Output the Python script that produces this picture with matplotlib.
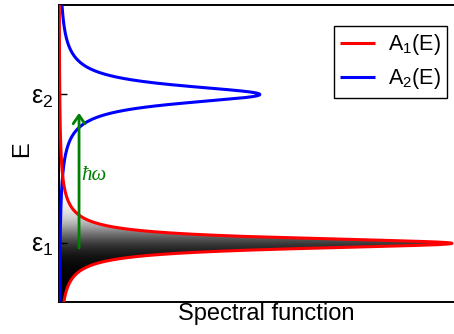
import numpy as np
import matplotlib
matplotlib.use("Agg")
import matplotlib.pyplot as plt
from matplotlib.colors import LinearSegmentedColormap

plt.rcParams['font.family'] = ['Liberation Sans', 'DejaVu Sans']
plt.rcParams['mathtext.default'] = 'regular'

# Level energies, broadenings and peak heights of the two spectral functions
level_energies = [1.0, 2.0]           # eps_1, eps_2
level_widths = [0.044, 0.074]         # Lorentzian half widths
peak_heights = [1.0, 0.511]           # maximum of A_1, A_2
level_labels = [r'ε$_{\mathregular{1}}$', r'ε$_{\mathregular{2}}$']
legend_labels = [r'A$_1$(E)', r'A$_2$(E)']
line_colors = ['#ff0000', '#0000ff']

# Occupation of the lower level (Fermi function)
mu = 1.076
kT = 0.067

# Photon excitation arrow
arrow_x = 0.051
arrow_from = 0.968
arrow_to = 1.876

E_min, E_max = 0.606, 2.601


def lorentzian(E, eps, gamma, height):
    return height / (1.0 + ((E - eps) / gamma) ** 2)


W, H = 454, 334
fig = plt.figure(figsize=(W / 100, H / 100), dpi=100)
ax = fig.add_axes([59 / W, 1 - 302 / H, (457 - 59) / W, (302 - 5) / H])

E = np.linspace(E_min, E_max, 4000)
A1 = lorentzian(E, level_energies[0], level_widths[0], peak_heights[0])
A2 = lorentzian(E, level_energies[1], level_widths[1], peak_heights[1])

x_max = peak_heights[0] * (457 - 59) / (452 - 59)
ax.set_xlim(0, x_max)
ax.set_ylim(E_min, E_max)

# Occupied part of A_1: shaded by the Fermi function
fill = ax.fill_betweenx(E, 0, A1, facecolor='none', edgecolor='none')
Eg = np.linspace(E_min, E_max, 600)
occ = 1.0 / (np.exp((Eg - mu) / kT) + 1.0)
grad = occ[:, None] * np.ones((1, 2))
cmap = LinearSegmentedColormap.from_list('occ', ['#ffffff', '#000000'])
img = ax.imshow(grad, extent=[0, x_max, E_min, E_max], origin='lower',
                aspect='auto', cmap=cmap, vmin=0, vmax=1, zorder=1,
                interpolation='bilinear')
img.set_clip_path(fill.get_paths()[0], transform=ax.transData)

l2, = ax.plot(A2, E, color=line_colors[1], lw=2.2, zorder=3,
              solid_capstyle='butt')
l1, = ax.plot(A1, E, color=line_colors[0], lw=2.2, zorder=4,
              solid_capstyle='butt')

# Excitation arrow and photon energy label
ax.annotate('', xy=(arrow_x, arrow_to), xytext=(arrow_x, arrow_from),
            arrowprops=dict(arrowstyle='->,head_length=0.6,head_width=0.42',
                            color='#008000', lw=2.0, shrinkA=0, shrinkB=0),
            zorder=5)
ax.text(0.057, 1.459, 'ħω', color='#008000', fontsize=15,
        family=['Liberation Serif', 'DejaVu Serif'], style='italic',
        ha='left', va='center', zorder=5)

ax.set_yticks(level_energies)
ax.set_yticklabels(level_labels, fontsize=18)
ax.set_xticks([])
ax.tick_params(axis='y', direction='in', length=6, width=1, pad=4)
for s in ax.spines.values():
    s.set_linewidth(1.4)

ax.set_xlabel('Spectral function', fontsize=17)
ax.xaxis.set_label_coords((266 - 59) / 398, -0.005, )
ax.xaxis.label.set_va('top')
ax.set_ylabel('E', fontsize=17)
ax.yaxis.set_label_coords(-0.093, 0.515)
ax.yaxis.label.set_va('center')

leg = ax.legend([l1, l2], legend_labels, loc='upper right',
                bbox_to_anchor=((447 - 59) / 398, (302 - 26) / 297),
                fontsize=15.5, frameon=True, fancybox=False, framealpha=1,
                handlelength=1.6, handletextpad=0.6, borderpad=0.3,
                labelspacing=0.4, borderaxespad=0)
leg.get_frame().set_edgecolor('black')
leg.get_frame().set_linewidth(1.0)
for h in leg.get_lines():
    h.set_linewidth(2.2)

fig.savefig('out.png', dpi=100)
